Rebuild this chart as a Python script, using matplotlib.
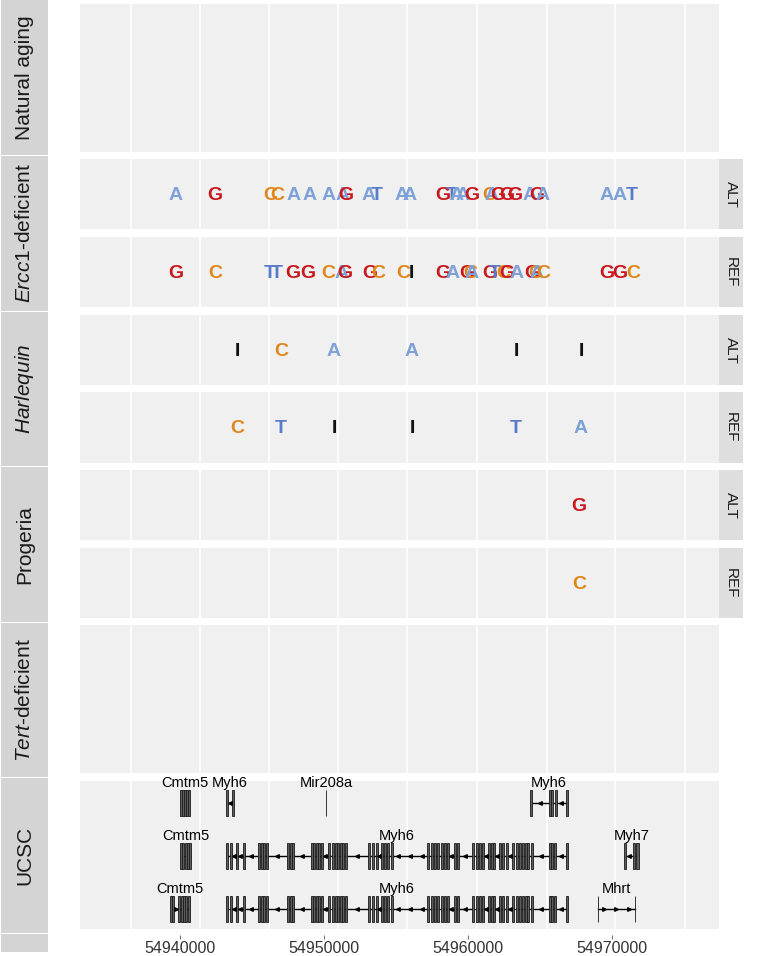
import numpy as np
import matplotlib.pyplot as plt
import matplotlib.transforms as mtransforms

plt.rcParams['font.family'] = ['Liberation Sans', 'DejaVu Sans']
plt.rcParams['mathtext.fontset'] = 'custom'
plt.rcParams['mathtext.rm'] = 'Liberation Sans'
plt.rcParams['mathtext.it'] = 'Liberation Sans:italic'

# genomic window and axis ticks
x_min, x_max = 54933056, 54977431
tick_pos = [54940000, 54950000, 54960000, 54970000]
grid_pos = [54936597, 54941389, 54946181, 54950972, 54955764,
            54960625, 54965486, 54970208, 54975069]

# Ercc1-deficient mutations
ercc1_alt_pos = [54939722, 54942431, 54946250, 54946736, 54947917, 54949028, 54950347,
                 54951319, 54951528, 54953125, 54953681, 54955417, 54955972, 54958264,
                 54958889, 54959236, 54959653, 54960278, 54961458, 54961667, 54962083,
                 54962708, 54963264, 54964306, 54964792, 54965208, 54969653, 54970556,
                 54971389]
ercc1_alt_base = ['A', 'G', 'C', 'C', 'A', 'A', 'A', 'A', 'G', 'A', 'T', 'A', 'A', 'G',
                  'T', 'A', 'A', 'G', 'C', 'A', 'G', 'G', 'G', 'A', 'G', 'A', 'A', 'A', 'T']
ercc1_ref_pos = [54939722, 54942431, 54946250, 54946736, 54947847, 54948889, 54950278,
                 54951250, 54951458, 54953194, 54953750, 54955486, 54956042, 54958264,
                 54958958, 54959931, 54960139, 54960278, 54961528, 54961875, 54962431,
                 54962708, 54963403, 54964444, 54964653, 54964792, 54965208, 54969653,
                 54970556, 54971458]
ercc1_ref_base = ['G', 'C', 'T', 'T', 'G', 'G', 'C', 'A', 'G', 'G', 'C', 'C', 'I', 'G',
                  'A', 'G', 'C', 'A', 'G', 'T', 'C', 'G', 'A', 'G', 'C', 'A', 'C', 'G',
                  'G', 'C']

# Harlequin mutations
harl_pos = [54943958, 54947014, 54950694, 54956111, 54963333, 54967847]
harl_alt_base = ['I', 'C', 'A', 'A', 'I', 'I']
harl_ref_base = ['C', 'T', 'I', 'I', 'T', 'A']

# Progeria mutations
prog_pos = [54967708]
prog_alt_base = ['G']
prog_ref_base = ['C']

# UCSC transcripts (exon positions)
cmtm5_a = [54940069, 54940208, 54940347, 54940486, 54940625]
cmtm5_b = [54940069, 54940208, 54940417, 54940556, 54940694]
cmtm5_c = [54939375, 54939514, 54939931, 54940139, 54940278, 54940417, 54940625]
myh6_a = [54943264, 54943681]
mir208a = [54950139]
myh6_b = [54964375, 54965694, 54965833, 54966111, 54966875]
myh6_full = [54943264, 54943542, 54943958, 54944444, 54945486, 54945694, 54945833,
             54946042, 54947500, 54947708, 54947847, 54949167, 54949306, 54949514,
             54949653, 54949861, 54950347, 54950625, 54950833, 54950972, 54951181,
             54951319, 54951528, 54953125, 54953403, 54953681, 54954028, 54954236,
             54954444, 54954722, 54957222, 54957500, 54957708, 54957917, 54958194,
             54958403, 54958611, 54959097, 54959306, 54960347, 54960625, 54960833,
             54961042, 54961458, 54961667, 54961806, 54962222, 54962431, 54962708,
             54963125, 54963403, 54963611, 54963819, 54964028, 54964167, 54964444,
             54965694, 54965833, 54966042, 54966875]
myh7 = [54970903, 54971528, 54971771]
mhrt = [54969028, 54971597]

transcripts = [
    ('Cmtm5', 1, '+', cmtm5_a), ('Myh6', 1, '-', myh6_a), ('Mir208a', 1, '-', mir208a),
    ('Myh6', 1, '-', myh6_b),
    ('Cmtm5', 2, '+', cmtm5_b), ('Myh6', 2, '-', myh6_full), ('Myh7', 2, '-', myh7),
    ('Cmtm5', 3, '+', cmtm5_c), ('Myh6', 3, '-', myh6_full), ('Mhrt', 3, '+', mhrt),
]

base_colors = {'A': '#7EA2D8', 'T': '#5A7BC9', 'G': '#C9171E', 'C': '#E0861A', 'I': '#111111'}

W, H = 762, 956
fig = plt.figure(figsize=(W / 100, H / 100), dpi=100)
panel_bg = '#F0F0F0'
strip_left = '#D4D4D4'
strip_right = '#DEDEDE'


def box(x0, y0, x1, y1):
    return fig.add_axes([x0 / W, 1 - y1 / H, (x1 - x0) / W, (y1 - y0) / H])


def panel(y0, y1):
    ax = box(80, y0, 719, y1)
    ax.set_facecolor(panel_bg)
    ax.set_xlim(x_min, x_max)
    for g in grid_pos:
        ax.axvline(g, color='white', lw=1.1, zorder=0)
    for s in ax.spines.values():
        s.set_visible(False)
    ax.set_xticks([])
    ax.set_yticks([])
    return ax


def strip(x0, y0, x1, y1, label, color, rot, size):
    ax = box(x0, y0, x1, y1)
    ax.set_facecolor(color)
    for s in ax.spines.values():
        s.set_visible(False)
    ax.set_xticks([])
    ax.set_yticks([])
    if label:
        ax.text(0.5, 0.5, label, rotation=rot, ha='center', va='center',
                fontsize=size, color='#1A1A1A', transform=ax.transAxes)
    return ax


def letters(ax, pos, bases):
    trans = mtransforms.blended_transform_factory(ax.transData, ax.transAxes)
    for p, b in zip(pos, bases):
        ax.text(p, 0.48, b, transform=trans, ha='center', va='center',
                fontsize=14, fontweight='bold', color=base_colors[b])


# left track labels
strip(1, 0, 48, 155, 'Natural aging', strip_left, 90, 15)
strip(1, 156, 48, 311, r'$\mathit{Ercc1}$-deficient', strip_left, 90, 15)
strip(1, 312, 48, 466, r'$\mathit{Harlequin}$', strip_left, 90, 15)
strip(1, 467, 48, 622, 'Progeria', strip_left, 90, 15)
strip(1, 623, 48, 777, r'$\mathit{Tert}$-deficient', strip_left, 90, 15)
strip(1, 778, 48, 933, 'UCSC', strip_left, 90, 15)
strip(1, 934, 48, 952, '', strip_left, 90, 15)

# mutation tracks
panel(4, 152)

ax = panel(159, 229)
letters(ax, ercc1_alt_pos, ercc1_alt_base)
strip(719, 159, 743, 229, 'ALT', strip_right, -90, 11)
ax = panel(237, 307)
letters(ax, ercc1_ref_pos, ercc1_ref_base)
strip(719, 237, 743, 307, 'REF', strip_right, -90, 11)

ax = panel(315, 385)
letters(ax, harl_pos, harl_alt_base)
strip(719, 315, 743, 385, 'ALT', strip_right, -90, 11)
ax = panel(392, 463)
letters(ax, harl_pos, harl_ref_base)
strip(719, 392, 743, 463, 'REF', strip_right, -90, 11)

ax = panel(470, 540)
letters(ax, prog_pos, prog_alt_base)
strip(719, 470, 743, 540, 'ALT', strip_right, -90, 11)
ax = panel(548, 618)
letters(ax, prog_pos, prog_ref_base)
strip(719, 548, 743, 618, 'REF', strip_right, -90, 11)

panel(625, 773)

# UCSC gene models
ax = panel(781, 929)
ax.set_ylim(3.384, 0.584)
for name, row, strand, exons in transcripts:
    exons = sorted(exons)
    thin = name in ('Mir208a', 'Mhrt')
    width = 40 if thin else 140
    ax.plot([exons[0], exons[-1]], [row, row], color='black', lw=1.0, zorder=2)
    ax.bar(exons, 0.49, width=width, bottom=row - 0.245, color='#5E5E5E',
           edgecolor='#1A1A1A', linewidth=0.6, zorder=3)
    marker = '<' if strand == '-' else '>'
    for a, b in zip(exons[:-1], exons[1:]):
        gap = b - a
        if gap < 300:
            continue
        n = max(1, int(gap // 800))
        for k in range(n):
            ax.plot(a + (k + 0.5) * gap / n, row, marker=marker, ms=2.6,
                    color='black', zorder=4)
    ax.text((exons[0] + exons[-1]) / 2, row - 0.38, name, ha='center', va='center',
            fontsize=10.5, color='black')

# genomic axis
axx = box(80, 934, 719, 935)
axx.set_xlim(x_min, x_max)
axx.set_frame_on(False)
axx.set_yticks([])
axx.set_xticks(tick_pos)
axx.set_xticklabels([str(t) for t in tick_pos])
axx.tick_params(axis='x', length=3, width=0.6, color='#555555', pad=1,
                labelsize=11.5, labelcolor='#333333')

fig.savefig('out.png', dpi=100)
